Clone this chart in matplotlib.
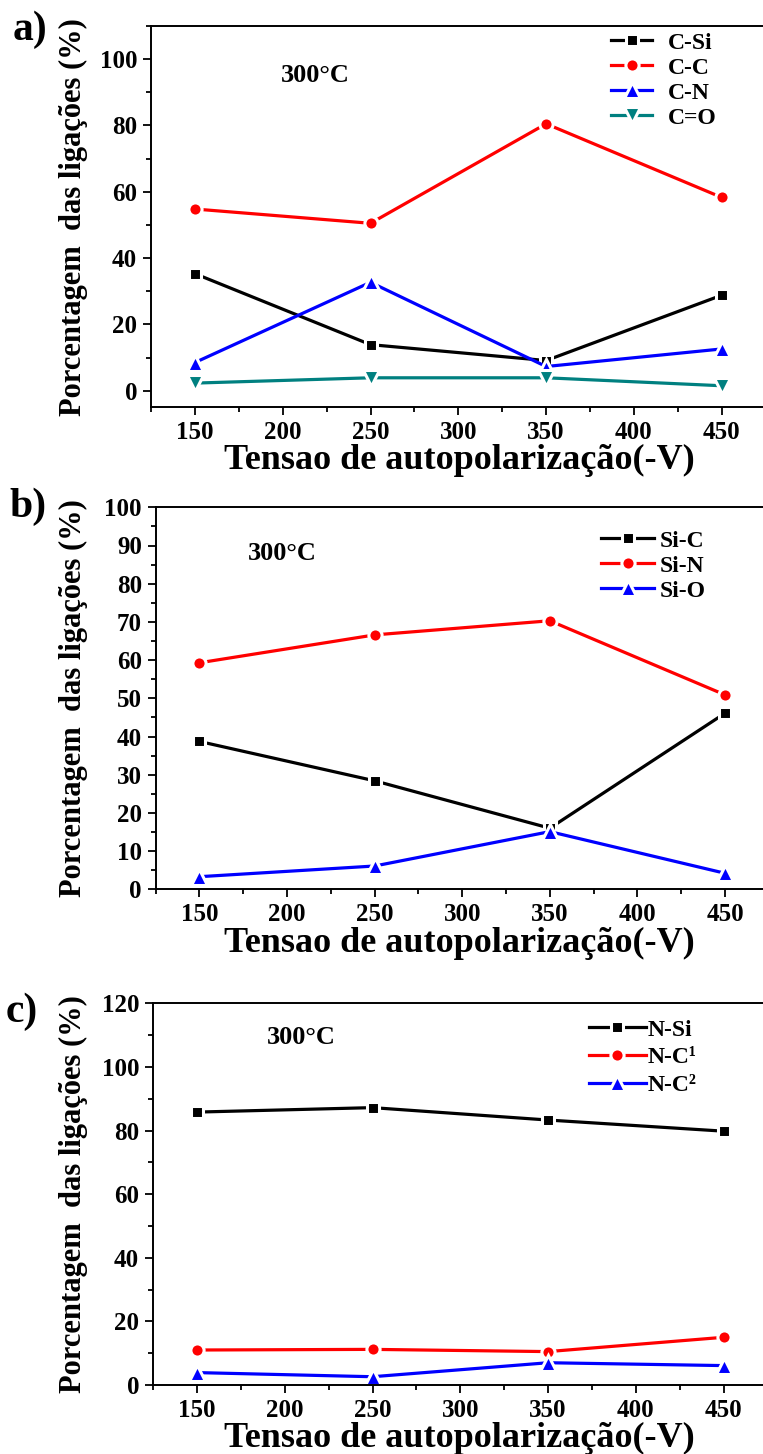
import numpy as np
import matplotlib
matplotlib.use("Agg")
import matplotlib.pyplot as plt
from matplotlib.ticker import MultipleLocator

plt.rcParams['font.family'] = ['Liberation Serif', 'DejaVu Serif']
plt.rcParams['font.weight'] = 'bold'

# bias voltage (-V)
tensao = [150, 250, 350, 450]

# a) C bonds
c_si = [35.3, 13.9, 9.1, 28.8]
c_c = [54.8, 50.5, 80.5, 58.3]
c_n = [8.5, 32.7, 7.3, 12.6]
c_o = [2.3, 3.9, 3.9, 1.5]

# b) Si bonds
si_c = [38.7, 28.4, 16.0, 46.1]
si_n = [59.3, 66.6, 70.3, 50.9]
si_o = [3.3, 6.1, 15.1, 4.2]

# c) N bonds
n_si = [85.8, 87.2, 83.3, 79.8]
n_c1 = [11.0, 11.2, 10.5, 15.0]
n_c2 = [3.9, 2.6, 7.0, 6.1]

W, H = 763, 1454
fig = plt.figure(figsize=(W / 100, H / 100), dpi=100)


def px(x, y):
    return x / W, 1 - y / H


def setup(ax, ylim, major, minor):
    ax.set_xlim(125, 475)
    ax.set_ylim(*ylim)
    ax.xaxis.set_major_locator(MultipleLocator(50))
    ax.xaxis.set_minor_locator(MultipleLocator(25))
    ax.yaxis.set_major_locator(MultipleLocator(major))
    ax.yaxis.set_minor_locator(MultipleLocator(minor))
    ax.spines['right'].set_visible(False)
    for s in ax.spines.values():
        s.set_linewidth(1.4)
    ax.tick_params(which='both', direction='out', width=1.3, labelsize=18,
                   top=False, right=False)
    ax.tick_params(which='major', length=6, pad=4)
    ax.tick_params(which='minor', length=3.5)


def series(ax, y, color, marker, label, ms=9.5):
    ax.plot(tensao, y, color=color, lw=2.3, marker=marker, ms=ms,
            mfc=color, mec='white', mew=2.2, label=label)


def legend(ax, x, y, hl, pad, sp):
    ax.legend(loc='upper left', bbox_to_anchor=px(x, y), bbox_transform=fig.transFigure,
              frameon=False, borderpad=0, borderaxespad=0, fontsize=17,
              handlelength=hl, handletextpad=pad, labelspacing=sp)


# panel a
ax1 = fig.add_axes([151 / W, 1 - 407.3 / H, (765.6 - 151) / W, (407.3 - 26) / H])
setup(ax1, (-5, 110), 20, 10)
ax1.set_yticks([0, 20, 40, 60, 80, 100])
series(ax1, c_si, 'black', 's', 'C-Si', 9)
series(ax1, c_c, 'red', 'o', 'C-C')
series(ax1, c_n, 'blue', '^', 'C-N', 11)
series(ax1, c_o, '#008080', 'v', 'C=O', 11)
legend(ax1, 611, 32, 1.75, 0.65, 0.15)

# panel b
ax2 = fig.add_axes([155.7 / W, 1 - 889.3 / H, (768.8 - 155.7) / W, (889.3 - 507.3) / H])
setup(ax2, (0, 100), 10, 5)
series(ax2, si_c, 'black', 's', 'Si-C', 9)
series(ax2, si_n, 'red', 'o', 'Si-N')
series(ax2, si_o, 'blue', '^', 'Si-O', 11)
legend(ax2, 601, 530, 2.25, 0.25, 0.15)

# panel c
ax3 = fig.add_axes([153.1 / W, 1 - 1385 / H, (767.5 - 153.1) / W, (1385 - 1003.3) / H])
setup(ax3, (0, 120), 20, 10)
series(ax3, n_si, 'black', 's', 'N-Si', 9)
series(ax3, n_c1, 'red', 'o', 'N-C¹')
series(ax3, n_c2, 'blue', '^', 'N-C²', 11)
legend(ax3, 589, 1019, 2.4, 0.1, 0.27)

ylabel = 'Porcentagem  das ligações (%)'
xlabel = 'Tensao de autopolarização(-V)'
for cy in (216.6, 698.3, 1194.2):
    fig.text(*px(73, cy), ylabel, rotation=90, ha='center', va='center', fontsize=22)
for cy in (460, 943, 1438):
    fig.text(*px(459, cy), xlabel, ha='center', va='center', fontsize=26)

for x, y in [(315, 75), (282, 554), (301, 1037)]:
    fig.text(*px(x, y), '300°C', ha='center', va='center', fontsize=19)

for (x, y), s in zip([(13, 30), (9, 507), (6, 1012)], ['a)', 'b)', 'c)']):
    fig.text(*px(x, y), s, ha='left', va='center', fontsize=30)

fig.savefig('out.png', dpi=100)
